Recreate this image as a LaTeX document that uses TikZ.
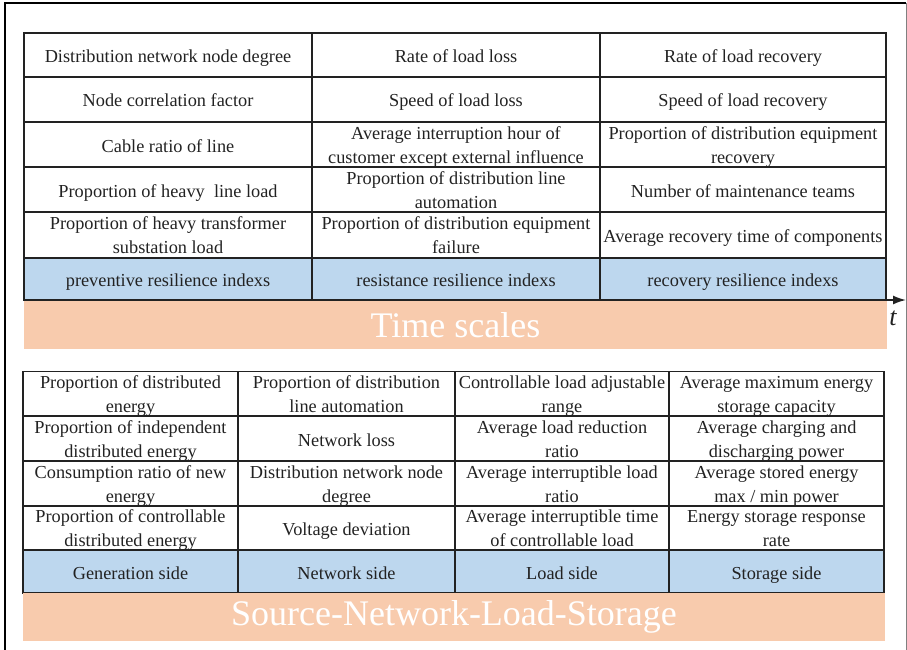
\documentclass[tikz,border=0pt]{standalone}
\usepackage{fontspec}
\setmainfont{Liberation Serif}
\usetikzlibrary{arrows.meta}
\definecolor{cellblue}{HTML}{BDD7EE}
\definecolor{barorange}{HTML}{F8CBAD}
\definecolor{inkc}{HTML}{222222}
\newcommand\rowtopstrut{\rule{0pt}{17pt}}
\begin{document}
\begin{tikzpicture}[x=1pt,y=-1pt,
  cell/.style={draw=inkc, line width=1.4pt, align=center, inner sep=0pt, outer sep=0pt,
    font=\fontsize{18.3}{24}\selectfont, text=inkc,
    execute at begin node={\rule{0pt}{19pt}}, execute at end node={\rule[-4pt]{0pt}{4pt}}},
  headcell/.style={cell, fill=cellblue},
  bar/.style={fill=barorange, inner sep=0pt, outer sep=0pt, text=white,
    font=\fontsize{36}{36}\selectfont},
  cA/.style={minimum width=288pt}, cB/.style={minimum width=288pt}, cC/.style={minimum width=286pt},
  dA/.style={minimum width=215pt}, dB/.style={minimum width=217pt}, dC/.style={minimum width=214pt}, dD/.style={minimum width=215pt},
  h44/.style={minimum height=44pt}, h45/.style={minimum height=45pt}, h46/.style={minimum height=46pt},
  h42/.style={minimum height=42pt}, h43/.style={minimum height=43pt}
]
\useasboundingbox (0,0) rectangle (907,650);
% outer frame
\draw[black, line width=1.5pt] (5,650) -- (5,3) -- (906,3);
\draw[black!50, line width=1pt] (906,3) -- (906,650);

% ---------- top table ----------
\node[cell,cA,h44] (t11) at (168,55) {Distribution network node degree};
\node[cell,cB,h44] (t12) at (456,55) {Rate of load loss};
\node[cell,cC,h44] (t13) at (743,55) {Rate of load recovery};
\node[cell,cA,h45] (t21) at (168,99.5) {Node correlation factor};
\node[cell,cB,h45] (t22) at (456,99.5) {Speed of load loss};
\node[cell,cC,h45] (t23) at (743,99.5) {Speed of load recovery};
\node[cell,cA,h45] (t31) at (168,144.5) {Cable ratio of line};
\node[cell,cB,h45] (t32) at (456,144.5) {\rowtopstrut Average interruption hour of\\customer except external influence};
\node[cell,cC,h45] (t33) at (743,144.5) {\rowtopstrut Proportion of distribution equipment\\recovery};
\node[cell,cA,h45] (t41) at (168,189.5) {Proportion of heavy\ \ line load};
\node[cell,cB,h45] (t42) at (456,189.5) {\rowtopstrut Proportion of distribution line\\automation};
\node[cell,cC,h45] (t43) at (743,189.5) {Number of maintenance teams};
\node[cell,cA,h46] (t51) at (168,235) {\rowtopstrut Proportion of heavy transformer\\substation load};
\node[cell,cB,h46] (t52) at (456,235) {\rowtopstrut Proportion of distribution equipment\\failure};
\node[cell,cC,h46] (t53) at (743,235) {Average recovery time of components};
\node[headcell,cA,h42] (t61) at (168,279) {preventive resilience indexs};
\node[headcell,cB,h42] (t62) at (456,279) {resistance resilience indexs};
\node[headcell,cC,h42] (t63) at (743,279) {recovery resilience indexs};

\node[bar, minimum width=863pt, minimum height=48pt] (ts) at (455.5,325) {Time scales};

% time axis
\coordinate (axs) at (24,300);
\coordinate (axe) at (906,300);
\draw[inkc, line width=1.6pt, -{Latex[length=13pt,width=9pt]}] (axs) -- (axe);
\node[font=\fontsize{26}{26}\selectfont\itshape, text=inkc, inner sep=0pt] (tl) at (893,318) {t};

% ---------- bottom table ----------
\node[cell,dA,h44] (b11) at (130.5,394) {\rowtopstrut Proportion of distributed\\energy};
\node[cell,dB,h44] (b12) at (346.5,394) {\rowtopstrut Proportion of distribution\\line automation};
\node[cell,dC,h44] (b13) at (562,394) {\rowtopstrut Controllable load adjustable\\range};
\node[cell,dD,h44] (b14) at (776.5,394) {\rowtopstrut Average maximum energy\\storage capacity};
\node[cell,dA,h45] (b21) at (130.5,438.5) {\rowtopstrut Proportion of independent\\distributed energy};
\node[cell,dB,h45] (b22) at (346.5,438.5) {Network loss};
\node[cell,dC,h45] (b23) at (562,438.5) {\rowtopstrut Average load reduction\\ratio};
\node[cell,dD,h45] (b24) at (776.5,438.5) {\rowtopstrut Average charging and\\discharging power};
\node[cell,dA,h45] (b31) at (130.5,483.5) {\rowtopstrut Consumption ratio of new\\energy};
\node[cell,dB,h45] (b32) at (346.5,483.5) {\rowtopstrut Distribution network node\\degree};
\node[cell,dC,h45] (b33) at (562,483.5) {\rowtopstrut Average interruptible load\\ratio};
\node[cell,dD,h45] (b34) at (776.5,483.5) {\rowtopstrut Average stored energy\\max / min power};
\node[cell,dA,h44] (b41) at (130.5,528) {\rowtopstrut Proportion of controllable\\distributed energy};
\node[cell,dB,h44] (b42) at (346.5,528) {Voltage deviation};
\node[cell,dC,h44] (b43) at (562,528) {\rowtopstrut Average interruptible time\\of controllable load};
\node[cell,dD,h44] (b44) at (776.5,528) {\rowtopstrut Energy storage response\\rate};
\node[headcell,dA,h43] (b51) at (130.5,571.5) {Generation side};
\node[headcell,dB,h43] (b52) at (346.5,571.5) {Network side};
\node[headcell,dC,h43] (b53) at (562,571.5) {Load side};
\node[headcell,dD,h43] (b54) at (776.5,571.5) {Storage side};

\node[bar, minimum width=862pt, minimum height=48pt] (snls) at (454,617) {Source-Network-Load-Storage};
\end{tikzpicture}
\end{document}
